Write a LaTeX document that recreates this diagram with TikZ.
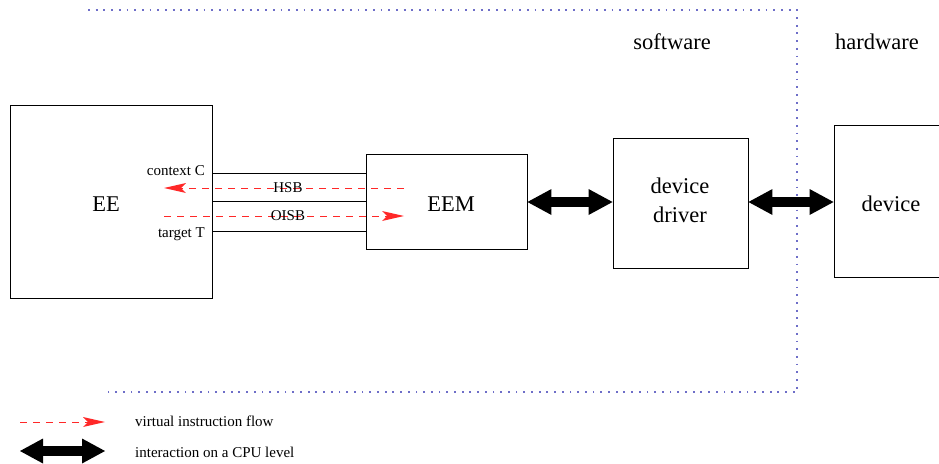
\documentclass[tikz,border=0pt]{standalone}
\usepackage{fontspec}
\setmainfont{Liberation Serif}
\usetikzlibrary{arrows.meta}
\definecolor{framecol}{RGB}{110,110,200}
\definecolor{flowred}{RGB}{255,40,40}
\tikzset{
  box/.style={draw=black, line width=0.9pt, inner sep=0pt},
  small/.style={font=\fontsize{15}{17}\selectfont, inner sep=0pt},
  big/.style={font=\fontsize{22.5}{29}\selectfont, inner sep=0pt, align=center},
  link/.style={draw=black, line width=0.9pt},
  vflow/.style={draw=flowred, line width=1pt, dash pattern=on 7pt off 6pt, -{Stealth[length=22pt,width=10pt,inset=5pt,line width=0pt]}},
  cpu/.style={draw=black, line width=10pt, {Triangle[length=24pt,width=26pt,line width=0pt]}-{Triangle[length=24pt,width=26pt,line width=0pt]}},
  cpuone/.style={draw=black, line width=10pt, {Triangle[length=23pt,width=25pt,line width=0pt]}-{Triangle[length=23pt,width=25pt,line width=0pt]}},
  frame/.style={draw=framecol, line width=1.8pt, dash pattern=on 1.8pt off 5.9pt}
}
\begin{document}
\begin{tikzpicture}[x=1pt,y=-1pt]
\useasboundingbox (0,0) rectangle (939,463);
\clip (0,0) rectangle (939,463);
% frame
\coordinate (f1) at (88,10);
\coordinate (f2) at (797,10);
\coordinate (f3) at (797,392);
\coordinate (f4) at (107,392);
\draw[frame] (f1) -- (f2) -- (f3) -- (f4);
\node[big] (sw) at (672,42) {software};
\node[big] (hw) at (877,42) {hardware};
% boxes
\node[box, minimum width=202pt, minimum height=193pt] (EE) at (111,201.5) {};
\node[big] (EEt) at (106,204) {EE};
\node[box, minimum width=161pt, minimum height=95pt] (EEM) at (446.5,201.5) {};
\node[big] (EEMt) at (451,204) {EEM};
\node[box, minimum width=135pt, minimum height=130pt] (drv) at (680.5,203) {};
\node[big] (drvt) at (680,200) {device\\driver};
\node[box, minimum width=114pt, minimum height=152pt] (dev) at (891,201) {};
\node[big] (devt) at (891,204) {device};
% lines between EE and EEM
\draw[link] ([yshift=28.5pt]EE.east) -- ([yshift=28.5pt]EEM.west);
\draw[link] (EE.east) -- (EEM.west);
\draw[link] ([yshift=-29.5pt]EE.east) -- ([yshift=-29.5pt]EEM.west);
\node[small, anchor=east] (ctx) at (205,171) {context C};
\node[small, anchor=east] (tgt) at (205,234) {target T};
% virtual flows
\coordinate (hsbR) at (404,188);
\coordinate (hsbL) at (164,188);
\coordinate (oisbL) at (164,216);
\coordinate (oisbR) at (404,216);
\draw[vflow] (hsbR) -- (hsbL);
\draw[vflow] (oisbL) -- (oisbR);
\node[small] (hsb) at (288,188) {HSB};
\node[small] (oisb) at (288,216) {OISB};
% CPU interactions
\draw[cpu] ([yshift=-0.5pt]EEM.east) -- ([yshift=-0.5pt]EEM.east -| drv.west);
\draw[cpu] ([yshift=-0.5pt]EEM.east -| drv.east) -- ([yshift=-0.5pt]EEM.east -| dev.west);
% legend
\coordinate (l1a) at (20,422);
\coordinate (l1b) at (105,422);
\coordinate (l2a) at (20,451);
\coordinate (l2b) at (105,451);
\draw[vflow] (l1a) -- (l1b);
\draw[cpuone] (l2a) -- (l2b);
\node[small, anchor=west] (lt1) at (135,421) {virtual instruction flow};
\node[small, anchor=west] (lt2) at (135,452) {interaction on a CPU level};
\end{tikzpicture}
\end{document}
